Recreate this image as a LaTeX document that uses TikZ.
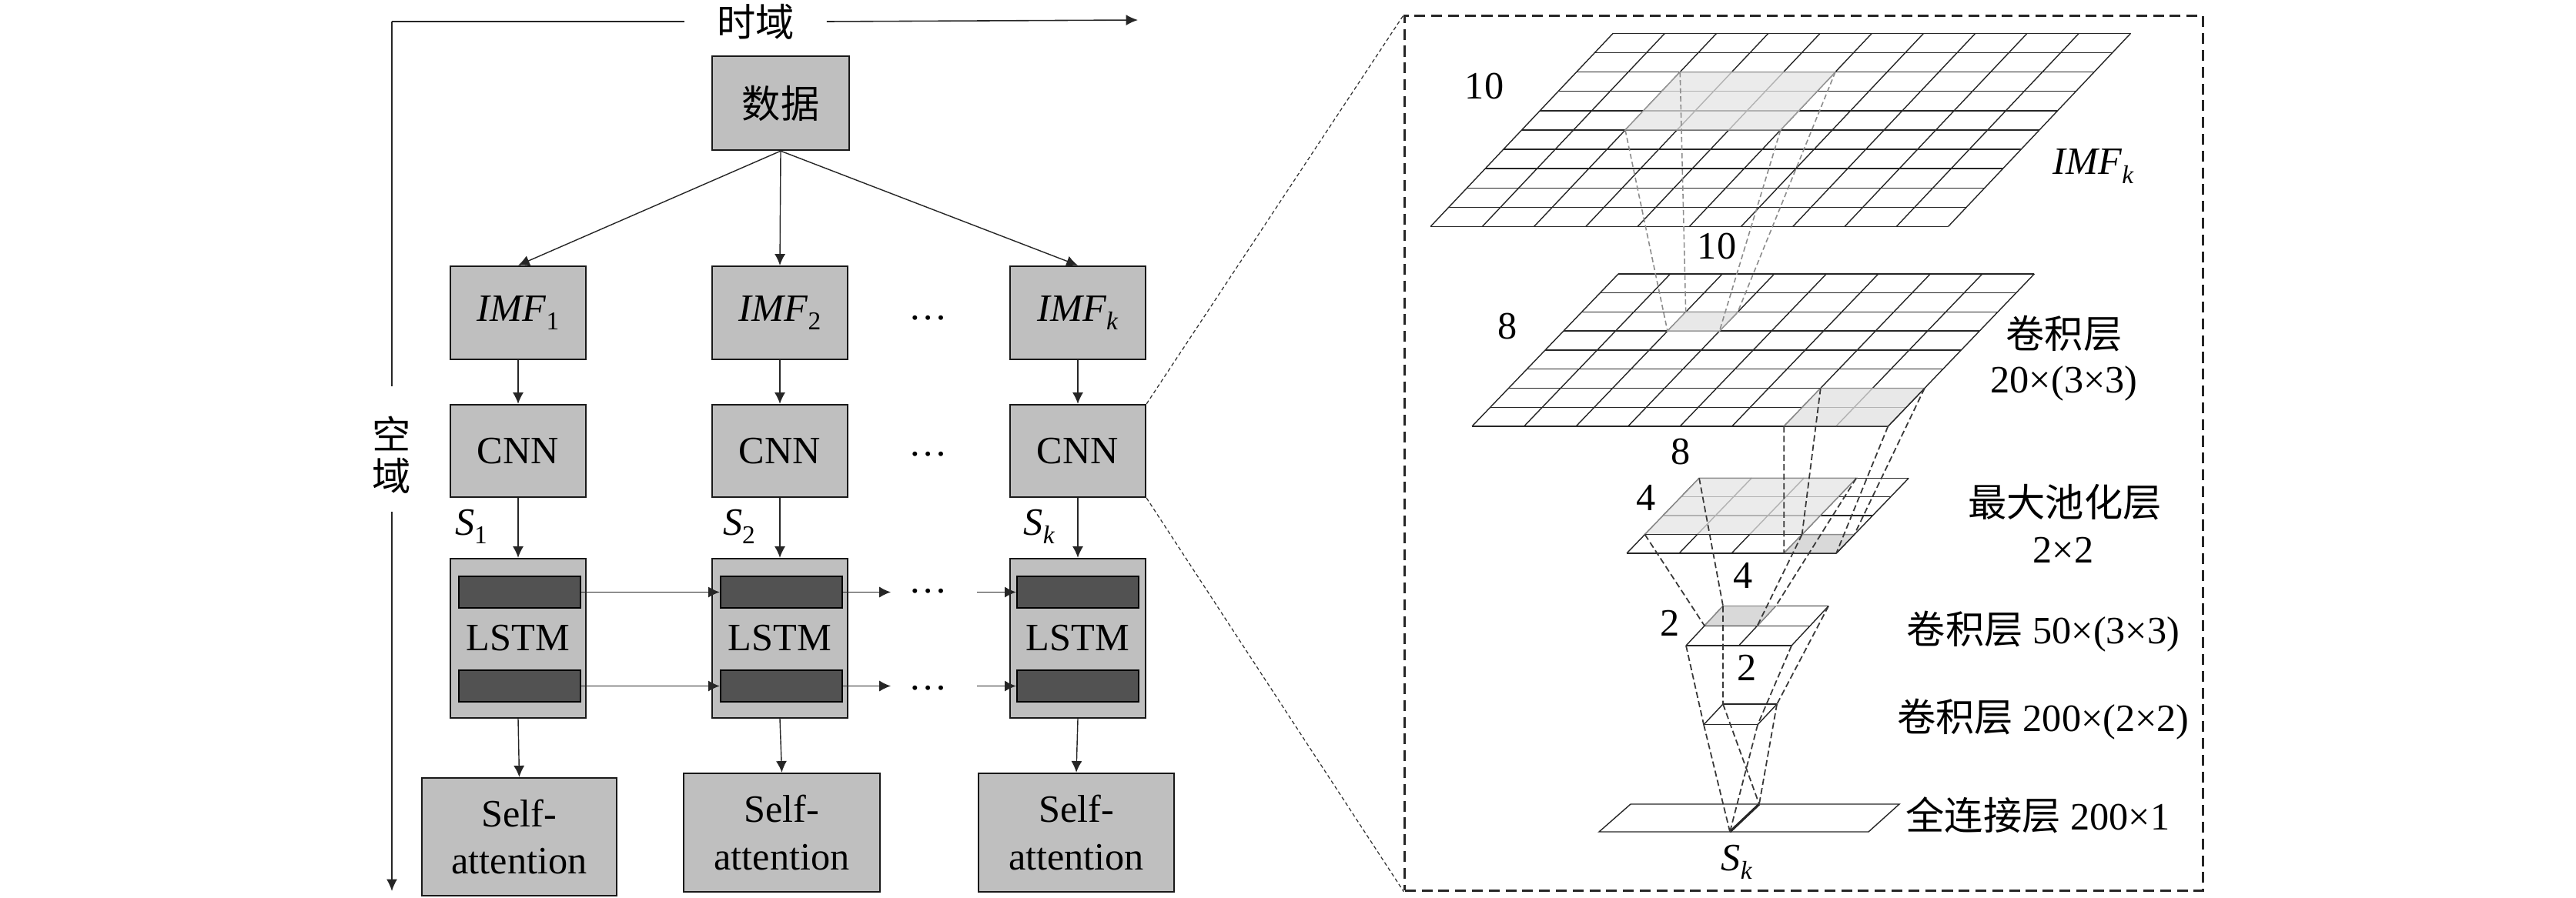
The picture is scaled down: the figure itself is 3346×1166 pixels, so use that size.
\documentclass[tikz,border=0pt]{standalone}
\usepackage{fontspec}
\setmainfont{Liberation Serif}
\newfontfamily\cjk{Noto Sans CJK SC}
\usetikzlibrary{arrows.meta}
\newcommand{\lsub}[1]{\raisebox{-0.22em}{\fontsize{9.5}{10}\selectfont #1}}
\newcommand{\gridlayer}[2]{%
  \foreach \i in {0,...,#1} {\draw[gridline] (\i,0) -- (\i,#2);}
  \foreach \j in {0,...,#2} {\draw[gridline] (0,\j) -- (#1,\j);}
}
\begin{document}
\begin{tikzpicture}[x=0.01cm, y=-0.01cm,
  font=\fontsize{14.3}{17.4}\selectfont,
  box/.style={draw=black!90, line width=0.65pt, fill=black!25, minimum width=1.76cm,
    minimum height=1.21cm, inner sep=0pt, align=center},
  bar/.style={draw=black, line width=0.65pt, fill=black!68, minimum width=1.58cm,
    minimum height=0.41cm, inner sep=0pt},
  arr/.style={-{Latex[length=4.2pt,width=4pt]}, line width=0.4pt, black!85},
  axis/.style={line width=0.45pt, black!85},
  lbl/.style={inner sep=0pt},
  gridline/.style={line width=0.4pt, black!85},
  shadeline/.style={line width=0.4pt, black!30},
  proj/.style={dash pattern=on 2.3pt off 1.2pt, line width=0.5pt, black!78},
  projlight/.style={dash pattern=on 1.9pt off 1.1pt, line width=0.45pt, black!45},
  zoomline/.style={dash pattern=on 1.4pt off 1pt, line width=0.35pt, black!80},
  panelbox/.style={draw=black!85, dash pattern=on 4pt off 2.2pt, line width=0.8pt,
    minimum width=10.36cm, minimum height=11.36cm, inner sep=0pt},
]
\useasboundingbox (0,0) rectangle (3346,1166);

% ---------- axes ----------
\coordinate (tl) at (509,28);
\coordinate (hend) at (1478,26);
\coordinate (vend) at (509,1158);
\coordinate (kgtop) at (509,502);
\coordinate (kgbot) at (509,665);
\node[lbl, minimum width=1.83cm, font=\fontsize{14.3}{17.4}\cjk] (shiyu) at (981.5,28) {时域};
\node[lbl, align=center, font=\fontsize{14.3}{15.2}\cjk] (kongyu) at (509,591) {空\\域};
\draw[axis] (tl) -- (shiyu.west);
\draw[axis, -{Latex[length=4.4pt,width=4pt]}] (shiyu.east) -- (hend);
\draw[axis] (tl) -- (kgtop);
\draw[axis, -{Latex[length=4.4pt,width=4pt]}] (kgbot) -- (vend);

% ---------- left column boxes ----------
\node[box, minimum width=1.78cm, minimum height=1.22cm, font=\fontsize{14.3}{17.4}\cjk] (data) at (1014,134) {数据};

\node[box] (imf1) at (673,406.5) {\textit{IMF}\lsub{1}};
\node[box] (imf2) at (1013,406.5) {\textit{IMF}\lsub{2}};
\node[box] (imfk) at (1400,406.5) {\textit{IMF}\lsub{\textit{k}}};

\node[box, minimum height=1.20cm] (cnn1) at (673,586) {CNN};
\node[box, minimum height=1.20cm] (cnn2) at (1013,586) {CNN};
\node[box, minimum height=1.20cm] (cnnk) at (1400,586) {CNN};

\node[box, minimum height=2.07cm] (lstm1) at (673,829.5) {LSTM};
\node[box, minimum height=2.07cm] (lstm2) at (1013,829.5) {LSTM};
\node[box, minimum height=2.07cm] (lstmk) at (1400,829.5) {LSTM};

\node[bar] (b1t) at (675,769.5) {};
\node[bar] (b1b) at (675,891.5) {};
\node[bar] (b2t) at (1015,769.5) {};
\node[bar] (b2b) at (1015,891.5) {};
\node[bar] (bkt) at (1400,769.5) {};
\node[bar] (bkb) at (1400,891.5) {};

\node[box, minimum width=2.53cm, minimum height=1.53cm] (sa1) at (674.5,1087.5) {Self-\\attention};
\node[box, minimum width=2.55cm, minimum height=1.54cm] (sa2) at (1015.5,1082) {Self-\\attention};
\node[box, minimum width=2.54cm, minimum height=1.54cm] (sak) at (1398,1082) {Self-\\attention};

\node[lbl] (s1) at (612,684) {\textit{S}\lsub{1}};
\node[lbl] (s2) at (960,684) {\textit{S}\lsub{2}};
\node[lbl] (sk1) at (1350,684) {\textit{S}\lsub{\textit{k}}};

\node[lbl, anchor=base] (dimf) at (1206,415) {…};
\node[lbl, anchor=base] (dcnn) at (1206,592.5) {…};
\node[lbl, anchor=base] (dlt) at (1206,770) {…};
\node[lbl, anchor=base] (dlb) at (1206,896) {…};

% arrows
\draw[arr] (data.south) -- (imf1.north);
\draw[arr] (data.south) -- (imf2.north);
\draw[arr] (data.south) -- (imfk.north);
\foreach \c in {1,2,k} {
  \draw[arr] (imf\c.south) -- (cnn\c.north);
  \draw[arr] (cnn\c.south) -- (lstm\c.north);
}
\draw[arr] (lstm1.south) -- (sa1.north);
\draw[arr] (lstm2.south) -- (sa2.north);
\draw[arr] (lstmk.south) -- (sak.north);

\coordinate (t2end) at (1157,769.5);
\coordinate (tkstart) at (1269,769.5);
\coordinate (b2end) at (1157,891.5);
\coordinate (bkstart) at (1269,891.5);
\draw[arr] (b1t.east) -- (b2t.west);
\draw[arr] (b1b.east) -- (b2b.west);
\draw[arr] (b2t.east) -- (t2end);
\draw[arr] (b2b.east) -- (b2end);
\draw[arr] (tkstart) -- (bkt.west);
\draw[arr] (bkstart) -- (bkb.west);

% ---------- right panel ----------
\node[panelbox] (panel) at (2343,589) {};
\draw[zoomline] (cnnk.north east) -- (panel.north west);
\draw[zoomline] (cnnk.south east) -- (panel.south west);

% layer 1 : 10 x 10
\begin{scope}[shift={(1858,294.5)}, x={(0.672cm,0cm)}, y={(0.237cm,0.251cm)}]
  \gridlayer{10}{10}
  \fill[black!8] (2,5) -- (5,5) -- (5,8) -- (2,8) -- cycle;
  \foreach \i in {3,4} {\draw[shadeline] (\i,5) -- (\i,8);}
  \foreach \j in {6,7} {\draw[shadeline] (2,\j) -- (5,\j);}
  \draw[line width=0.4pt, black!40] (2,5) -- (5,5) -- (5,8) -- (2,8) -- cycle;
  \coordinate (a1) at (2,8); \coordinate (a2) at (5,8);
  \coordinate (a3) at (2,5); \coordinate (a4) at (5,5);
\end{scope}

% layer 2 : 8 x 8
\begin{scope}[shift={(1912,554)}, x={(0.675cm,0cm)}, y={(0.2375cm,0.2475cm)}]
  \gridlayer{8}{8}
  \fill[black!9] (2,5) -- (3,5) -- (3,6) -- (2,6) -- cycle;
  \draw[line width=0.4pt, black!40] (2,5) -- (3,5) -- (3,6) -- (2,6) -- cycle;
  \fill[black!9] (6,0) -- (8,0) -- (8,2) -- (6,2) -- cycle;
  \draw[shadeline] (7,0) -- (7,2);
  \draw[shadeline] (6,1) -- (8,1);
  \draw[line width=0.4pt, black!45] (6,0) -- (6,2) -- (8,2);
  \draw[gridline] (6,0) -- (8,0) -- (8,2);
  \coordinate (b1) at (2,6); \coordinate (b2) at (3,6);
  \coordinate (b3) at (2,5); \coordinate (b4) at (3,5);
  \coordinate (c1) at (6,2); \coordinate (c2) at (8,2);
  \coordinate (c3) at (6,0); \coordinate (c4) at (8,0);
\end{scope}

% layer 3 : 4 x 4
\begin{scope}[shift={(2113,719)}, x={(0.68cm,0cm)}, y={(0.235cm,0.244cm)}]
  \gridlayer{4}{4}
  \fill[black!8] (0,1) -- (3,1) -- (3,4) -- (0,4) -- cycle;
  \foreach \i in {1,2} {\draw[shadeline] (\i,1) -- (\i,4);}
  \foreach \j in {2,3} {\draw[shadeline] (0,\j) -- (3,\j);}
  \draw[line width=0.4pt, black!45] (0,1) -- (0,4) -- (3,4) -- (3,1);
  \draw[gridline] (0,1) -- (3,1);
  \fill[black!15] (3,0) -- (4,0) -- (4,1) -- (3,1) -- cycle;
  \draw[line width=0.4pt, black!45] (3,0) -- (3,1) -- (4,1);
  \draw[gridline] (3,0) -- (4,0) -- (4,1);
  \coordinate (d1) at (3,1); \coordinate (d2) at (4,1);
  \coordinate (d3) at (3,0); \coordinate (d4) at (4,0);
  \coordinate (e1) at (0,4); \coordinate (e2) at (3,4);
  \coordinate (e3) at (0,1); \coordinate (e4) at (3,1);
\end{scope}

% layer 4 : 2 x 2
\begin{scope}[shift={(2190,839)}, x={(0.685cm,0cm)}, y={(0.24cm,0.2575cm)}]
  \gridlayer{2}{2}
  \fill[black!15] (0,1) -- (1,1) -- (1,2) -- (0,2) -- cycle;
  \draw[line width=0.4pt, black!45] (0,1) -- (0,2) -- (1,2) -- (1,1);
  \draw[gridline] (0,1) -- (1,1);
  \coordinate (f1) at (0,2); \coordinate (f2) at (1,2);
  \coordinate (f3) at (0,1); \coordinate (f4) at (1,1);
  \coordinate (g1) at (0,2); \coordinate (g2) at (2,2);
  \coordinate (g3) at (0,0); \coordinate (g4) at (2,0);
\end{scope}

% layer 5 : 1 x 1
\begin{scope}[shift={(2213,941.7)}, x={(0.70cm,0cm)}, y={(0.25cm,0.267cm)}]
  \gridlayer{1}{1}
  \coordinate (h1) at (0,1); \coordinate (h2) at (1,1);
  \coordinate (h3) at (0,0); \coordinate (h4) at (1,0);
\end{scope}

% layer 6 : fully connected
\draw[gridline] (2077,1081) -- (2427,1081) -- (2467,1045) -- (2118,1045) -- cycle;
\coordinate (ptop) at (2285,1045);
\coordinate (pbot) at (2247,1081);
\draw[line width=0.9pt, black!85] (pbot) -- (ptop);

% projection lines
\foreach \p/\q in {a1/b1,a2/b2,a3/b3,a4/b4} {\draw[projlight] (\p) -- (\q);}
\foreach \p/\q in {c1/d1,c2/d2,c3/d3,c4/d4,e1/f1,e2/f2,e3/f3,e4/f4,g1/h1,g2/h2,g3/h3,g4/h4,h3/pbot,h1/ptop,h4/pbot,h2/ptop} {\draw[proj] (\p) -- (\q);}

% labels in panel
\node[lbl] (n10a) at (1928,112) {10};
\node[lbl] (imfklbl) at (2719,216) {\textit{IMF}\lsub{\textit{k}}};
\node[lbl] (n10b) at (2230,320) {10};
\node[lbl] (n8a) at (1958,424) {8};
\node[lbl] (n8b) at (2183,587) {8};
\node[lbl, font=\fontsize{14.3}{17.4}\cjk] (conva) at (2681,434) {卷积层};
\node[lbl] (convb) at (2681,498) {20×(3×3)};
\node[lbl, font=\fontsize{14.3}{17.4}\cjk] (poola) at (2682,653) {最大池化层};
\node[lbl] (poolb) at (2680,715) {2×2};
\node[lbl] (n4a) at (2138,647) {4};
\node[lbl] (n4b) at (2264,748) {4};
\node[lbl] (n2a) at (2169,810) {2};
\node[lbl] (n2b) at (2269,868) {2};
\node[lbl] (conv2) at (2654,821) {{\cjk 卷积层} 50×(3×3)};
\node[lbl] (conv3) at (2654,935) {{\cjk 卷积层} 200×(2×2)};
\node[lbl] (fc) at (2647,1059) {{\cjk 全连接层} 200×1};
\node[lbl] (sk) at (2256,1120) {\textit{S}\lsub{\textit{k}}};
\end{tikzpicture}
\end{document}
